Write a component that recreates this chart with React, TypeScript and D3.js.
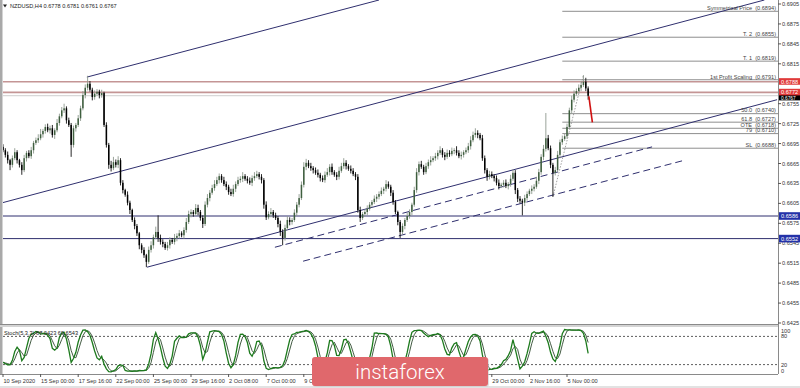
import React, { useEffect } from "react";
import * as d3 from "d3";

// ---------------- DATA ----------------
const symbolTitle = "NZDUSD,H4 0.6778 0.6781 0.6761 0.6767";
const stochTitle = "Stoch(5,3,3) 67.0423 69.6543";

const firstOpen = 0.669;
const closes = [
  0.6685, 0.6678, 0.667, 0.6663, 0.6673, 0.6682, 0.667, 0.6663, 0.6655, 0.6673,
  0.6681, 0.6676, 0.6685, 0.6696, 0.67, 0.6703, 0.6709, 0.6714, 0.672, 0.6715,
  0.6718, 0.6708, 0.6715, 0.6726, 0.6736, 0.6745, 0.6748, 0.673, 0.6723, 0.6693,
  0.6718, 0.6723, 0.6733, 0.6748, 0.6768, 0.6779, 0.6785, 0.6776, 0.6765, 0.677,
  0.6773, 0.6768, 0.6771, 0.6723, 0.6693, 0.6663, 0.6658, 0.6667, 0.6663, 0.667,
  0.6636, 0.6625, 0.6618, 0.6606, 0.6595, 0.658, 0.6571, 0.656, 0.6542, 0.6535,
  0.6527, 0.6517, 0.6535, 0.6542, 0.6554, 0.6562, 0.6553, 0.6547, 0.6544, 0.6538,
  0.6542, 0.655, 0.6547, 0.6553, 0.6556, 0.656, 0.6557, 0.6565, 0.6577, 0.6589,
  0.6592, 0.6589, 0.6598, 0.6592, 0.6583, 0.6574, 0.6603, 0.6613, 0.6621, 0.6628,
  0.6634, 0.664, 0.6646, 0.664, 0.6634, 0.663, 0.6622, 0.6619, 0.6627, 0.6634,
  0.664, 0.6642, 0.6646, 0.6642, 0.6639, 0.6636, 0.6643, 0.6646, 0.6649, 0.6645,
  0.664, 0.6603, 0.6584, 0.6589, 0.6592, 0.6587, 0.6583, 0.6574, 0.6562, 0.6553,
  0.6568, 0.658, 0.6577, 0.658, 0.6591, 0.6603, 0.6613, 0.6633, 0.666, 0.6666,
  0.6661, 0.6658, 0.6655, 0.6651, 0.6648, 0.6643, 0.664, 0.6648, 0.6652, 0.666,
  0.6652, 0.6648, 0.6645, 0.6654, 0.6661, 0.6666, 0.6661, 0.6657, 0.6654, 0.6649,
  0.6645, 0.6595, 0.6583, 0.6589, 0.6592, 0.6597, 0.6603, 0.6607, 0.6612, 0.6615,
  0.6619, 0.6624, 0.6627, 0.6634, 0.663, 0.6621, 0.6607, 0.6592, 0.6577, 0.6562,
  0.6571, 0.658, 0.6586, 0.6592, 0.6603, 0.6625, 0.6652, 0.6664, 0.666, 0.6652,
  0.6661, 0.6667, 0.667, 0.6673, 0.6676, 0.6681, 0.6685, 0.6678, 0.6675, 0.6681,
  0.6679, 0.6684, 0.6685, 0.6681, 0.6676, 0.6678, 0.6682, 0.6685, 0.6691, 0.67,
  0.6708, 0.6711, 0.6708, 0.6703, 0.6673, 0.6655, 0.6645, 0.6649, 0.6646, 0.6643,
  0.6636, 0.6631, 0.6633, 0.6636, 0.6631, 0.6634, 0.6642, 0.6651, 0.6625, 0.6612,
  0.6609, 0.6606, 0.6613, 0.6619, 0.6624, 0.6627, 0.663, 0.6639, 0.6652, 0.6675,
  0.6687, 0.6703, 0.6688, 0.6663, 0.6651, 0.6655, 0.6678, 0.6697, 0.6702, 0.6706,
  0.672, 0.6745, 0.6761, 0.677, 0.6774, 0.6779, 0.6783, 0.6788, 0.6778, 0.6767,
];
// wick lengths in pips above body / below body
const wickUp = [
  4, 3, 5, 2, 4, 6, 3, 2, 4, 5, 3, 4, 5, 3, 4, 6, 8, 3, 4, 5,
  4, 5, 3, 6, 4, 5, 7, 3, 4, 3, 4, 3, 5, 4, 6, 5, 12, 4, 3, 5,
  4, 3, 5, 2, 4, 3, 6, 8, 4, 6, 3, 4, 2, 5, 3, 2, 4, 3, 2, 3,
  4, 2, 5, 6, 4, 8, 25, 5, 4, 3, 5, 4, 3, 6, 4, 5, 3, 4, 6, 5,
  4, 3, 6, 5, 3, 4, 5, 6, 4, 5, 6, 5, 4, 3, 5, 4, 3, 5, 6, 4,
  5, 4, 6, 3, 4, 5, 4, 6, 5, 3, 4, 3, 5, 4, 6, 3, 4, 3, 5, 4,
  5, 6, 4, 3, 5, 4, 6, 5, 7, 6, 4, 5, 3, 4, 5, 3, 4, 5, 6, 4,
  5, 3, 4, 6, 5, 7, 4, 3, 5, 4, 3, 4, 5, 3, 4, 5, 4, 3, 5, 4,
  4, 5, 3, 6, 4, 3, 4, 3, 2, 3, 4, 3, 5, 4, 3, 5, 6, 4, 5, 3,
  5, 4, 6, 3, 5, 4, 6, 3, 4, 5, 4, 5, 3, 6, 4, 5, 3, 4, 5, 6,
  5, 7, 4, 3, 5, 4, 3, 5, 4, 3, 4, 5, 3, 4, 5, 3, 6, 5, 4, 3,
  4, 3, 5, 4, 3, 5, 4, 6, 5, 4, 6, 38, 5, 4, 3, 5, 6, 4, 5, 4,
  5, 4, 6, 5, 4, 5, 6, 10, 6, 3,
];
const wickDn = [
  3, 4, 5, 8, 4, 3, 5, 4, 7, 3, 5, 3, 4, 5, 3, 4, 3, 5, 4, 3,
  5, 4, 6, 3, 4, 3, 4, 5, 3, 18, 4, 5, 3, 4, 3, 5, 4, 3, 5, 4,
  3, 5, 4, 3, 4, 6, 5, 3, 4, 5, 4, 5, 3, 4, 6, 3, 5, 4, 6, 5,
  4, 8, 3, 4, 5, 3, 6, 4, 5, 3, 4, 5, 3, 4, 5, 4, 3, 5, 4, 3,
  5, 4, 3, 5, 4, 6, 3, 4, 5, 3, 4, 3, 5, 4, 3, 5, 4, 3, 4, 5,
  3, 4, 5, 3, 4, 3, 5, 4, 3, 4, 5, 6, 4, 3, 5, 4, 3, 5, 6, 11,
  4, 3, 5, 4, 3, 5, 4, 3, 4, 5, 3, 4, 5, 3, 4, 5, 3, 4, 3, 5,
  4, 3, 5, 4, 3, 4, 5, 3, 4, 3, 5, 4, 6, 3, 4, 5, 3, 4, 3, 5,
  4, 3, 5, 4, 3, 5, 4, 3, 5, 9, 4, 5, 3, 4, 5, 3, 4, 5, 3, 4,
  3, 4, 5, 3, 4, 5, 3, 4, 5, 3, 4, 3, 5, 4, 3, 5, 4, 3, 4, 5,
  3, 4, 5, 3, 4, 5, 6, 4, 3, 5, 4, 5, 3, 4, 3, 5, 4, 3, 6, 5,
  4, 19, 5, 4, 3, 5, 4, 3, 5, 4, 5, 4, 3, 5, 36, 4, 3, 5, 4, 3,
  4, 3, 5, 4, 3, 4, 5, 3, 4, 6,
];

// visible date labels and the bar each one sits at
const dateLabels = [
  "10 Sep 2020", "15 Sep 00:00", "17 Sep 16:00", "22 Sep 00:00", "25 Sep 00:00",
  "29 Sep 16:00", "2 Oct 08:00", "7 Oct 00:00", "9 Oct 16:00",
  "29 Oct 00:00", "2 Nov 16:00", "5 Nov 00:00",
];
const dateBars = [0, 16, 32, 48, 64, 80, 96, 112, 128, 208, 224, 240];

const priceTicks = [
  0.6905, 0.6875, 0.6845, 0.6815, 0.6755, 0.6725, 0.6695, 0.6665,
  0.6635, 0.6605, 0.6575, 0.6545, 0.6515, 0.6485, 0.6455, 0.6425,
];

const fibNames = ["Symmetrical Price", "T. 2", "T. 1", "1st Profit Scaling", "50.0", "61.8", "OTE", "79", "SL"];
const fibValues = [0.6894, 0.6855, 0.6819, 0.6791, 0.674, 0.6727, 0.6718, 0.671, 0.6688];
const fibStartBar = 238;

const redLevels = [0.6788, 0.6772];
const blueLevels = [0.6586, 0.6552];
const bidPrice = 0.6767;

// trend lines: [bar1, price1, bar2, price2]
const channelLines = [
  [35.7, 0.6795, 160, 0.6911],
  [-1.3, 0.6605, 324, 0.6911],
  [61.3, 0.6509, 329.4, 0.6761],
];
const dashedLines = [
  [115.7, 0.6539, 276.2, 0.669],
  [127.7, 0.6518, 289, 0.6669],
];
const fibTrend = [234, 0.6615, 247, 0.6798];
const forecastBars = [249.3, 250.8];
const forecastPrices = [0.6766, 0.6727];

const stochLevels = [80, 20];
const stochAxis = [100, 80, 20, 0];

// ---------------- LAYOUT ----------------
const W = 800;
const H = 388;
const PL = 3;
const PR = 778;
const MAIN_BOTTOM = 324;
const ST_TOP = 327;
const ST_BOTTOM = 374;
const FONT = "'Liberation Sans', Arial, sans-serif";
const FS = 5.6;
const NAVY = "#2f2f6e";

export default function App() {
  useEffect(() => {
    document.body.style.margin = "0";
  }, []);

  const x = d3.scaleLinear().domain([0, 330]).range([3, 778.5]);
  const y = d3.scaleLinear().domain([0.6425, 0.6905]).range([323, 4]);
  const ys = d3.scaleLinear().domain([0, 100]).range([ST_BOTTOM, ST_TOP]);

  const n = closes.length;
  const opens = closes.map((c, i) => (i === 0 ? firstOpen : closes[i - 1]));
  const highs = closes.map((c, i) => Math.max(opens[i], c) + wickUp[i] / 10000);
  const lows = closes.map((c, i) => Math.min(opens[i], c) - wickDn[i] / 10000);

  // Stochastic (5,3,3)
  const num: number[] = [];
  const den: number[] = [];
  for (let i = 0; i < n; i++) {
    const s = Math.max(0, i - 4);
    const lo = d3.min(lows.slice(s, i + 1)) as number;
    const hi = d3.max(highs.slice(s, i + 1)) as number;
    num.push(closes[i] - lo);
    den.push(hi - lo);
  }
  const K: number[] = [];
  for (let i = 0; i < n; i++) {
    const s = Math.max(0, i - 2);
    const sn = d3.sum(num.slice(s, i + 1));
    const sd = d3.sum(den.slice(s, i + 1));
    K.push(sd > 0 ? (sn / sd) * 100 : 50);
  }
  const D: number[] = K.map((_, i) => d3.mean(K.slice(Math.max(0, i - 2), i + 1)) as number);

  const stLine = d3
    .line<number>()
    .x((_, i) => x(i))
    .y((v) => ys(v))
    .curve(d3.curveLinear);

  const seg = (l: number[]) => ({ x1: x(l[0]), y1: y(l[1]), x2: x(l[2]), y2: y(l[3]) });

  const bodyW = 1.5;
  const redLow = y(redLevels[1]);

  return (
    <svg
      width={W}
      height={H}
      viewBox={`0 0 ${W} ${H}`}
      style={{ position: "absolute", left: 0, top: 0, display: "block", background: "#fff" }}
      fontFamily={FONT}
    >
      <defs>
        <clipPath id="mainClip">
          <rect x={PL} y={0} width={PR - PL} height={MAIN_BOTTOM} />
        </clipPath>
        <clipPath id="stClip">
          <rect x={PL} y={ST_TOP} width={PR - PL} height={ST_BOTTOM - ST_TOP} />
        </clipPath>
      </defs>
      <rect x={0} y={0} width={W} height={H} fill="#fff" />

      {/* ---------- main panel ---------- */}
      <g clipPath="url(#mainClip)">
        {blueLevels.map((p, i) => (
          <line key={"b" + i} x1={PL} x2={PR} y1={y(p)} y2={y(p)} stroke={NAVY} strokeWidth={1} />
        ))}
        <line x1={PL} x2={PR} y1={y(bidPrice)} y2={y(bidPrice)} stroke="#cfcfcf" strokeWidth={1} />
        {redLevels.map((p, i) => (
          <line key={"r" + i} x1={PL} x2={PR} y1={y(p)} y2={y(p)} stroke="#c49595" strokeWidth={1.6} />
        ))}
        {fibValues.map((p, i) => (
          <line
            key={"f" + i}
            x1={x(fibStartBar)}
            x2={PR}
            y1={y(p)}
            y2={y(p)}
            stroke={fibNames[i] === "61.8" ? "#b4b4b4" : "#8e8e8e"}
            strokeWidth={fibNames[i] === "61.8" ? 1.6 : 1}
          />
        ))}
        {channelLines.map((l, i) => (
          <line key={"c" + i} {...seg(l)} stroke={NAVY} strokeWidth={1} />
        ))}
        {dashedLines.map((l, i) => (
          <line key={"d" + i} {...seg(l)} stroke={NAVY} strokeWidth={1} strokeDasharray="7,4" />
        ))}
        <line {...seg(fibTrend)} stroke="#888" strokeWidth={0.8} strokeDasharray="1.5,1.5" />

        {closes.map((c, i) => {
          const o = opens[i];
          const up = c >= o;
          const cx = x(i);
          const top = y(Math.max(o, c));
          const bot = y(Math.min(o, c));
          return (
            <g key={"k" + i}>
              <line
                x1={cx}
                x2={cx}
                y1={y(highs[i])}
                y2={y(lows[i])}
                stroke={up ? "#8f9a8f" : "#111"}
                strokeWidth={0.9}
              />
              <rect
                x={cx - bodyW / 2}
                y={top}
                width={bodyW}
                height={Math.max(0.8, bot - top)}
                fill={up ? "#3f5f3f" : "#000"}
              />
            </g>
          );
        })}
        <line
          x1={x(forecastBars[0])}
          y1={y(forecastPrices[0])}
          x2={x(forecastBars[1])}
          y2={y(forecastPrices[1])}
          stroke="#d01010"
          strokeWidth={1.6}
        />

        {fibValues.map((p, i) => (
          <text
            key={"fl" + i}
            x={PR - 2}
            y={y(p) - 1.2}
            textAnchor="end"
            fontSize={FS}
            fill="#444"
            style={{ whiteSpace: "pre" }}
          >
            {`${fibNames[i]}  (${p.toFixed(4)})`}
          </text>
        ))}
      </g>

      {/* title */}
      <path d="M3,4.5 L7,4.5 L5,7.5 Z" fill="#222" />
      <text x={10} y={8} fontSize={FS} fill="#222">
        {symbolTitle}
      </text>

      {/* frames */}
      <rect x={0} y={0} width={2.5} height={ST_BOTTOM} fill="#a9a9a9" />
      <rect x={0} y={MAIN_BOTTOM} width={PR + 1} height={ST_TOP - MAIN_BOTTOM} fill="#d4d4d4" />
      <line x1={0} x2={PR} y1={MAIN_BOTTOM + 0.5} y2={MAIN_BOTTOM + 0.5} stroke="#8a8a8a" />
      <line x1={PR + 0.5} x2={PR + 0.5} y1={0} y2={ST_BOTTOM} stroke="#8a8a8a" />
      <line x1={0} x2={PR} y1={ST_BOTTOM + 0.5} y2={ST_BOTTOM + 0.5} stroke="#8a8a8a" />
      <rect x={0} y={386} width={W} height={2} fill="#e2e2e2" />

      {/* price axis */}
      {priceTicks.map((p, i) => (
        <g key={"pt" + i}>
          <line x1={PR} x2={PR + 3} y1={y(p)} y2={y(p)} stroke="#555" />
          <text x={PR + 4} y={y(p) + 2} fontSize={FS} fill="#333">
            {p.toFixed(4)}
          </text>
        </g>
      ))}
      {blueLevels.map((p, i) => (
        <g key={"bt" + i}>
          <rect x={PR + 1} y={y(p) - 3.8} width={21} height={7.6} fill="#2432a8" />
          <text x={PR + 3} y={y(p) + 2} fontSize={FS} fill="#fff">
            {p.toFixed(4)}
          </text>
        </g>
      ))}
      <g>
        <rect x={PR + 1} y={redLow + 2.5} width={21} height={5.5} fill="#000" />
        <text x={PR + 3} y={redLow + 7.2} fontSize={4.8} fill="#fff">
          {bidPrice.toFixed(4)}
        </text>
      </g>
      {redLevels.map((p, i) => (
        <g key={"rt" + i}>
          <rect x={PR + 1} y={y(p) - 3.6} width={21} height={6.6} fill="#e03a3a" />
          <text x={PR + 3} y={y(p) + 1.8} fontSize={FS} fill="#fff">
            {p.toFixed(4)}
          </text>
        </g>
      ))}

      {/* ---------- stochastic panel ---------- */}
      <g clipPath="url(#stClip)">
        {stochLevels.map((v, i) => (
          <line
            key={"sl" + i}
            x1={PL}
            x2={PR}
            y1={ys(v)}
            y2={ys(v)}
            stroke="#333"
            strokeWidth={0.8}
            strokeDasharray="2,2"
          />
        ))}
        <path d={stLine(D) || ""} fill="none" stroke="#2f4a2f" strokeWidth={0.9} />
        <path d={stLine(K) || ""} fill="none" stroke="#1d7a1d" strokeWidth={1.3} />
      </g>
      <text x={4} y={335} fontSize={FS} fill="#222">
        {stochTitle}
      </text>
      {stochAxis.map((v, i) => (
        <text
          key={"sa" + i}
          x={PR + 3}
          y={v === 100 ? ys(v) + 6 : v === 0 ? ys(v) - 1 : ys(v) + 2}
          fontSize={FS}
          fill="#333"
        >
          {v}
        </text>
      ))}

      {/* date axis */}
      {dateLabels.map((d, i) => {
        const xi = x(dateBars[i]);
        return (
          <g key={"dl" + i}>
            <line x1={xi} x2={xi} y1={ST_BOTTOM} y2={ST_BOTTOM + 3} stroke="#555" />
            <text x={xi + 0.5} y={382.5} fontSize={FS} fill="#333">
              {d}
            </text>
          </g>
        );
      })}

      {/* logo */}
      <rect x={313} y={358} width={176} height={29} rx={3} fill="#c9c9c9" opacity={0.6} />
      <rect x={312} y={357} width={176} height={29} rx={3} fill="#e0686c" />
      <text
        x={400}
        y={378.5}
        textAnchor="middle"
        fontSize={20.5}
        fontFamily="Roboto, 'Open Sans', sans-serif"
        fontWeight={300}
        fill="#fff"
      >
        instaforex
      </text>
    </svg>
  );
}
